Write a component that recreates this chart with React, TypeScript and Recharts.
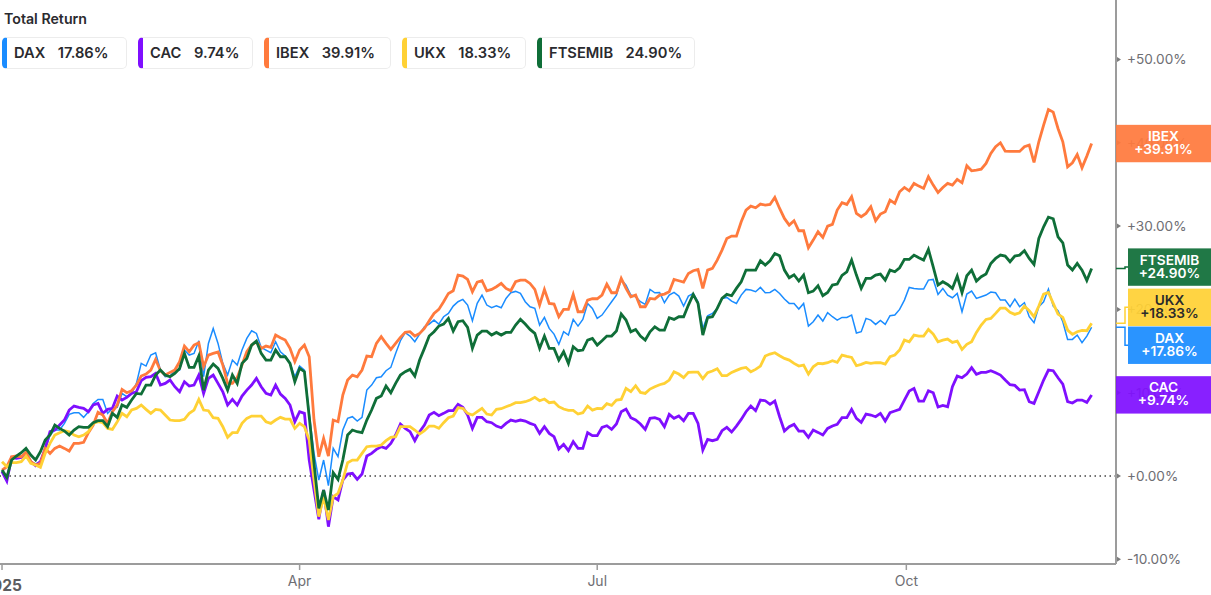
import React from "react";
import { LineChart, Line, XAxis, YAxis, ReferenceLine } from "recharts";

const DAX = [
  0.52,1.12,2.12,2.32,2.40,2.72,1.72,1.44,1.72,3.12,4.92,5.52,5.52,6.32,7.40,7.60,7.60,7.04,7.72,8.72,
  9.20,9.20,7.52,8.12,8.24,9.92,9.52,9.92,11.12,13.52,13.20,14.52,14.80,12.72,11.92,12.00,12.64,12.72,15.12,14.52,
  14.72,16.24,11.92,15.92,17.72,15.92,13.52,12.12,13.92,13.32,15.12,16.52,17.44,17.12,15.44,15.12,14.80,16.12,14.92,14.40,
  13.52,11.92,13.20,12.72,7.52,2.72,-0.48,1.92,-1.16,3.32,2.32,5.52,6.92,7.12,6.60,7.04,10.32,10.92,11.80,
  11.92,12.64,13.04,14.72,16.24,17.20,16.80,16.12,17.04,17.92,18.24,18.72,18.24,19.12,19.52,20.40,20.92,21.20,20.52,18.64,
  20.72,21.72,20.52,20.20,20.44,20.20,21.32,22.00,22.16,21.92,20.92,20.32,20.12,18.12,19.04,17.72,17.04,15.80,17.32,16.92,18.80,18.00,18.80,
  20.72,20.12,18.92,19.32,20.12,20.92,21.72,23.60,22.92,21.72,21.52,20.92,20.60,22.40,22.00,22.04,20.80,21.72,22.04,21.60,
  20.40,21.60,21.92,20.92,17.72,19.24,19.52,20.12,21.32,
  21.44,21.00,20.72,21.72,22.40,22.32,22.12,22.64,22.00,22.04,22.40,21.92,21.24,20.72,20.72,20.04,20.72,18.00,18.52,19.32,
  18.60,19.60,19.12,18.72,19.04,19.04,19.32,17.16,17.32,18.92,18.72,18.20,18.68,18.20,19.24,19.32,20.00,21.12,22.64,22.52,
  22.44,22.44,23.52,23.60,21.80,22.52,21.72,21.40,21.92,19.72,21.84,22.20,21.32,21.52,21.72,22.08,22.00,21.12,21.12,20.32,
  21.24,20.32,20.80,19.12,18.40,20.32,20.92,22.44,20.40,19.84,18.52,16.40,16.40,16.92,16.00,16.80,17.86,
];
const CAC = [
  0.52,-0.60,2.24,2.12,2.24,2.72,1.72,1.24,1.72,3.32,5.32,5.52,6.12,6.72,7.92,8.40,8.24,8.12,7.72,8.52,
  8.72,7.52,8.00,8.12,9.60,9.12,9.44,9.92,10.12,11.44,11.84,11.92,12.32,10.92,11.12,11.52,10.72,10.12,11.32,10.80,
  10.92,12.12,9.92,11.72,12.12,11.12,10.12,8.52,9.20,8.52,9.60,10.32,10.92,11.72,10.72,9.92,9.72,10.92,9.84,9.32,
  8.52,6.52,7.72,7.52,1.92,-1.68,-5.20,-1.68,-6.08,-2.48,-2.88,-0.48,0.24,0.32,-0.40,0.24,2.40,2.72,3.20,
  3.52,3.32,3.92,4.92,6.24,5.72,5.32,4.24,5.32,6.12,7.32,7.64,7.24,7.52,7.84,7.84,8.60,8.24,7.32,5.72,
  7.04,7.04,6.52,6.40,6.00,5.80,6.32,6.72,6.56,6.72,6.60,6.32,6.12,5.12,5.92,5.12,4.72,3.24,3.80,3.04,
  4.12,3.32,3.32,5.20,4.84,4.84,5.84,6.04,5.60,6.24,7.72,8.04,7.00,6.72,6.24,5.60,6.92,7.00,6.80,5.92,
  7.40,6.92,7.20,6.64,7.52,7.52,6.32,3.12,4.40,4.24,4.40,5.44,
  5.84,5.28,6.00,6.80,7.72,8.40,7.84,9.12,9.04,8.60,9.00,7.12,5.40,5.92,6.20,5.40,5.40,4.64,5.52,5.24,
  4.92,5.72,6.00,6.20,7.00,7.00,8.00,6.92,6.44,7.44,7.32,7.12,7.52,6.60,7.60,7.80,8.00,9.12,10.20,10.52,
  9.00,9.00,10.24,10.00,8.28,8.48,8.32,10.72,12.00,11.80,12.24,13.00,12.20,12.44,12.44,12.64,12.40,12.12,11.52,10.96,
  10.88,10.32,10.36,8.92,8.72,10.12,11.52,12.72,12.64,11.80,11.04,8.92,8.76,9.12,9.12,8.84,9.74,
];
const IBEX = [
  0.72,1.12,2.32,2.40,2.32,2.84,1.72,1.32,1.52,3.32,2.72,3.32,3.60,3.32,3.00,3.92,3.92,4.04,5.20,6.12,
  7.64,7.32,6.32,7.72,8.52,10.40,10.00,10.24,10.92,12.00,12.24,12.72,14.00,12.64,12.12,12.44,12.72,13.72,15.60,14.92,
  15.72,16.00,13.12,14.52,14.72,14.88,13.32,11.12,11.12,11.84,13.32,14.92,15.72,16.12,15.32,15.60,15.44,16.92,16.60,16.32,
  15.32,13.72,15.12,15.72,14.32,6.72,2.32,4.52,2.40,6.72,6.52,9.72,11.52,12.12,11.92,12.72,14.40,14.32,15.92,
  16.72,15.92,15.20,15.92,16.64,17.24,17.32,16.80,17.12,17.72,18.64,19.52,20.00,20.92,21.92,22.24,24.12,24.00,23.60,22.12,
  23.28,23.44,22.24,22.40,22.72,23.12,22.52,22.24,23.32,23.52,23.52,23.12,22.40,20.52,22.40,20.72,20.64,19.12,20.00,20.00,21.80,19.72,19.72,
  21.12,21.28,21.28,21.72,23.04,22.00,22.00,23.72,22.52,21.52,21.72,20.32,20.32,21.32,21.24,21.72,21.84,22.12,23.60,23.44,
  23.28,24.32,24.64,24.80,22.52,24.72,24.92,25.92,27.12,
  28.52,28.80,28.80,30.52,31.92,32.40,32.20,32.64,32.52,32.60,33.44,32.12,30.92,30.12,30.64,29.44,29.44,27.40,28.32,29.32,
  28.64,30.00,30.20,31.92,32.80,32.60,33.52,31.52,31.12,31.52,32.32,30.64,31.44,31.72,33.12,32.72,34.12,34.64,34.24,35.12,
  34.80,34.52,35.92,34.92,34.04,34.64,35.12,34.92,35.60,35.20,37.24,36.64,36.72,36.84,37.52,38.72,39.52,40.00,39.00,38.96,
  38.96,38.96,39.52,39.72,37.64,40.12,42.12,44.00,43.68,41.72,40.12,37.12,37.60,38.60,37.00,38.40,39.91,
];
const UKX = [
  1.72,1.12,1.60,1.60,1.72,2.40,1.52,1.32,1.04,2.72,3.92,4.92,5.20,5.44,5.32,4.92,4.72,4.92,5.32,6.32,
  6.52,6.40,5.72,5.60,6.52,7.52,7.12,7.92,8.12,8.52,8.00,7.52,8.00,7.92,7.32,6.72,6.64,6.64,6.80,7.52,
  7.92,9.20,7.92,7.84,7.00,6.92,5.92,4.64,5.20,5.20,6.32,6.92,7.20,7.20,7.20,6.52,6.32,6.72,7.04,6.84,
  6.84,5.72,6.32,5.92,4.32,-0.48,-4.88,-2.48,-5.28,-2.48,-2.08,-0.48,1.60,1.92,1.92,2.72,3.52,3.60,3.60,
  3.72,4.24,4.64,4.72,5.92,5.92,5.92,5.52,5.04,5.44,6.00,6.00,5.72,6.40,7.00,7.20,8.20,8.12,7.52,7.32,
  7.72,8.12,7.44,7.32,8.00,8.08,8.32,8.52,8.80,8.80,8.92,9.12,9.44,9.04,9.24,8.80,8.88,8.32,8.04,7.88,
  7.88,7.44,7.60,8.40,7.92,8.12,8.08,8.68,8.48,9.12,9.20,10.52,10.12,10.84,10.04,9.92,10.44,10.72,10.96,11.12,
  11.52,12.52,12.24,11.80,12.44,12.48,12.48,11.68,12.40,12.60,12.88,12.04,
  12.04,12.44,12.68,12.92,13.04,12.52,12.80,13.20,14.40,14.64,14.80,14.44,14.12,13.92,13.52,13.20,13.32,12.24,13.12,13.52,
  13.48,13.60,13.84,13.64,14.52,14.36,14.24,13.24,13.40,13.64,13.52,13.60,13.60,13.44,14.32,14.52,15.12,16.32,16.12,16.92,
  16.80,16.80,17.60,17.04,16.12,16.32,16.44,16.04,16.20,15.20,15.80,16.12,17.24,18.12,18.80,18.92,19.52,20.16,20.16,19.64,
  19.40,19.60,20.40,19.84,19.12,20.40,21.84,22.04,20.72,19.44,19.04,17.52,17.00,17.32,17.48,17.44,18.33,
];
const FTSEMIB = [
  0.72,-0.16,1.92,2.40,2.80,3.32,2.52,1.92,2.92,4.32,4.92,6.12,5.72,5.40,4.92,5.52,5.92,5.84,5.84,6.40,
  6.64,6.64,5.92,7.52,7.04,8.52,8.24,9.12,9.92,9.84,10.92,10.92,12.12,12.72,12.12,11.92,12.32,12.92,14.72,13.04,
  13.04,14.40,10.32,12.72,13.44,12.92,11.72,10.32,12.12,11.12,13.52,14.12,15.72,16.20,14.72,13.92,13.92,15.12,14.32,14.32,
  13.52,11.32,12.92,12.52,7.12,1.52,-3.88,-1.68,-4.08,0.40,-0.40,1.92,4.92,5.52,5.32,5.20,6.72,7.92,9.32,
  9.60,10.80,10.00,11.12,12.12,12.52,12.80,12.00,13.92,15.32,16.80,17.32,18.00,18.24,18.92,17.40,18.52,18.64,17.84,15.32,
  16.92,17.40,17.40,16.92,17.24,16.92,17.24,17.24,18.12,18.80,18.24,17.60,17.12,15.32,16.80,15.32,15.32,13.92,14.92,13.52,
  15.52,15.04,15.12,16.32,16.52,15.72,16.24,16.80,16.80,17.40,19.44,18.72,17.32,17.60,16.80,16.32,17.32,17.92,17.52,17.52,
  19.00,18.80,19.12,19.12,20.52,21.80,20.72,16.92,19.00,19.12,20.12,21.32,
  21.80,21.64,22.52,23.32,24.72,24.72,24.72,25.84,25.32,25.84,26.72,26.44,24.72,23.80,24.16,23.40,24.12,22.00,22.20,22.84,
  21.64,22.04,22.92,23.04,24.08,24.52,25.92,24.12,22.52,23.72,23.72,24.12,24.24,23.52,24.72,24.52,25.00,26.00,26.00,26.52,
  26.20,25.92,27.20,25.12,22.92,23.32,23.00,22.52,24.00,22.00,24.04,24.72,23.40,23.92,24.24,25.52,26.12,26.52,26.40,25.72,
  26.40,26.52,27.04,26.12,25.40,28.52,29.92,31.08,30.88,28.72,28.00,25.32,24.72,25.52,24.72,23.48,24.90,
];

const seriesNames = ["DAX", "CAC", "IBEX", "UKX", "FTSEMIB"];
const seriesValues: Record<string, number[]> = { DAX, CAC, IBEX, UKX, FTSEMIB };
const monthTicks = [0, 62, 124, 188.4];
const monthLabels = ["2025", "Apr", "Jul", "Oct"];
const valueTicks = [50, 40, 30, 20, 10, 0, -10];

const colors: Record<string, string> = {
  DAX: "#1a8cff",
  CAC: "#7f0fff",
  IBEX: "#ff7a3d",
  UKX: "#ffd135",
  FTSEMIB: "#0f6e38",
};
const widths: Record<string, number> = { DAX: 1.5, CAC: 2.8, IBEX: 2.8, UKX: 2.8, FTSEMIB: 2.8 };
const chipBoxes: Record<string, [number, number]> = {
  DAX: [2, 125],
  CAC: [138, 115],
  IBEX: [264, 127],
  UKX: [402, 124],
  FTSEMIB: [537, 158],
};
const badgeStyle: Record<string, { left: number; dy: number; text: string }> = {
  DAX: { left: 1128, dy: 18, text: "#ffffff" },
  CAC: { left: 1116, dy: 0, text: "#ffffff" },
  IBEX: { left: 1116, dy: 0, text: "#ffffff" },
  UKX: { left: 1128, dy: -16, text: "#2b2b2b" },
  FTSEMIB: { left: 1128, dy: -1.5, text: "#ffffff" },
};

const fontFamily = "Inter, 'Noto Sans', sans-serif";
const rows = DAX.map((_, i) => {
  const row: Record<string, number> = { i };
  seriesNames.forEach((n) => {
    row[n] = seriesValues[n][i];
  });
  return row;
});
const lastIndex = rows.length - 1;
const fmt = (v: number) => (v >= 0 ? "+" : "") + v.toFixed(2) + "%";

const XTick = (props: any) => {
  const { x, payload } = props;
  const idx = monthTicks.indexOf(payload.value);
  const first = idx === 0;
  return (
    <text
      x={x}
      y={first ? 591 : 586}
      textAnchor="middle"
      fontFamily={fontFamily}
      fontSize={first ? 15.5 : 14}
      fontWeight={first ? 700 : 400}
      fill={first ? "#5c5c60" : "#6e6e73"}
    >
      {monthLabels[idx]}
    </text>
  );
};

const YTick = (props: any) => {
  const { x, y, payload } = props;
  return (
    <g>
      <polygon points={`${x + 1},${y - 2.5} ${x + 5},${y} ${x + 1},${y + 2.5}`} fill="#7d7d7d" />
      <text x={x + 11} y={y + 5} fontFamily={fontFamily} fontSize={13.6} fill="#6e6e73">
        {(payload.value >= 0 ? "+" : "") + payload.value.toFixed(2) + "%"}
      </text>
    </g>
  );
};

const badge = (name: string) => (props: any) => {
  const { x, y, index, value } = props;
  if (index !== lastIndex) return null;
  const st = badgeStyle[name];
  const axisX = 1116;
  const cy = y + st.dy;
  const right = 1211;
  const col = colors[name];
  const v = Array.isArray(value) ? value[value.length - 1] : value;
  const elbow = st.left - 3;
  return (
    <g>
      {st.left !== axisX && (
        <polyline
          points={`${axisX},${y} ${elbow},${y} ${elbow},${cy} ${st.left},${cy}`}
          fill="none"
          stroke={col}
          strokeWidth={1.5}
        />
      )}
      <rect x={st.left} y={cy - 18.7} width={right - st.left} height={37.4} fill={col} fillOpacity={0.93} />
      <text
        x={(st.left + right) / 2}
        textAnchor="middle"
        fontFamily={fontFamily}
        fontSize={13.7}
        fontWeight={600}
        fill={st.text}
      >
        <tspan x={(st.left + right) / 2} y={cy - 2.5}>{name}</tspan>
        <tspan x={(st.left + right) / 2} y={cy + 10.5}>{fmt(v)}</tspan>
      </text>
    </g>
  );
};

export default function App() {
  return (
    <div style={{ position: "absolute", left: 0, top: 0, width: 1211, height: 595, background: "#fff", fontFamily, overflow: "hidden" }}>
      <LineChart width={1211} height={595} data={rows} margin={{ top: 0, right: 0, bottom: 0, left: 0 }}>
        <XAxis
          dataKey="i"
          type="number"
          domain={[-0.42, 232.08]}
          allowDataOverflow
          ticks={monthTicks}
          interval={0}
          height={31}
          tickSize={6}
          tick={<XTick />}
          axisLine={{ stroke: "#9c9c9c", strokeWidth: 2 }}
          tickLine={{ stroke: "#9c9c9c", strokeWidth: 1.5 }}
        />
        <YAxis
          orientation="right"
          type="number"
          width={95}
          domain={[-10.56, 57.14]}
          allowDataOverflow
          ticks={valueTicks}
          interval={0}
          tickLine={false}
          tickSize={0}
          tickMargin={0}
          tick={<YTick />}
          axisLine={{ stroke: "#9c9c9c", strokeWidth: 2 }}
        />
        <ReferenceLine y={0} stroke="#444" strokeWidth={1.6} strokeDasharray="1.5 3.5" />
        {seriesNames.map((n) => (
          <Line
            key={n}
            dataKey={n}
            type="linear"
            stroke={colors[n]}
            strokeWidth={widths[n]}
            dot={false}
            activeDot={false}
            isAnimationActive={false}
            label={badge(n)}
          />
        ))}
      </LineChart>
      <div style={{ position: "absolute", left: 4, top: 11, fontSize: 14.2, fontWeight: 600, color: "#2a2a2e", lineHeight: "16px" }}>
        Total Return
      </div>
      {seriesNames.map((n) => {
        const [left, width] = chipBoxes[n];
        return (
          <div
            key={n}
            style={{
              position: "absolute",
              left,
              top: 37,
              width,
              height: 32,
              boxSizing: "border-box",
              border: "1px solid #ececec",
              borderRadius: 5,
              borderLeft: `5px solid ${colors[n]}`,
              paddingLeft: 7,
              fontSize: 14.7,
              fontWeight: 600,
              lineHeight: "30px",
              color: "#2a2a2e",
              whiteSpace: "pre",
            }}
          >
            <span>{n}</span>
            <span style={{ marginLeft: 12.5 }}>{seriesValues[n][lastIndex].toFixed(2) + "%"}</span>
          </div>
        );
      })}
    </div>
  );
}
